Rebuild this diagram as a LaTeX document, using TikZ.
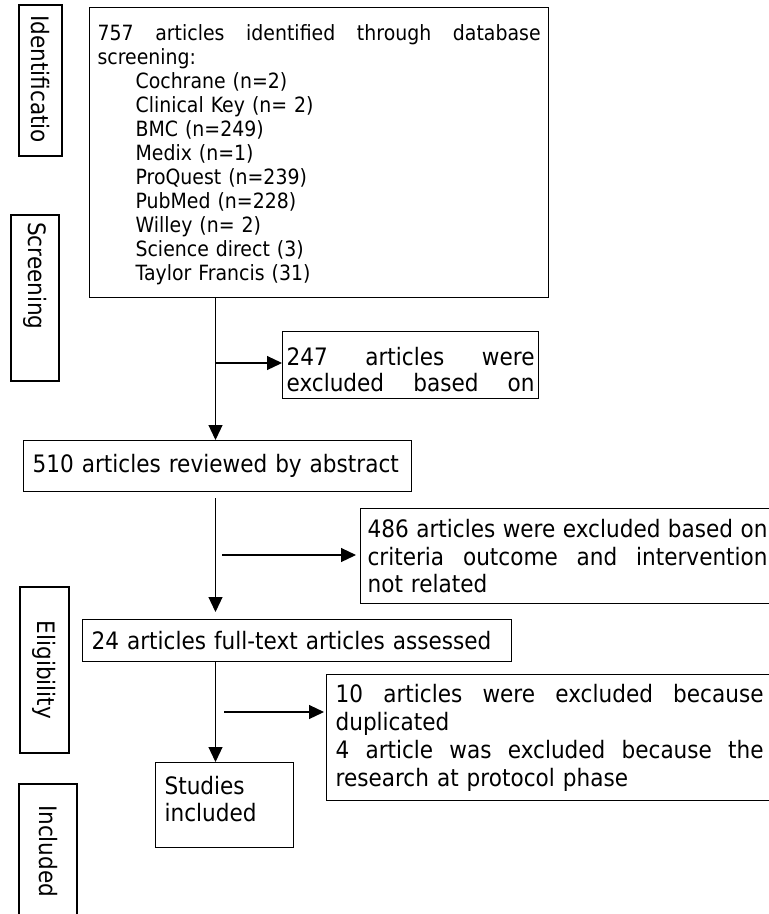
\documentclass[tikz,border=0pt]{standalone}
\usepackage{fontspec}
\setmainfont{DejaVu Sans}[FakeStretch=0.9]
\usetikzlibrary{arrows.meta}

\newcommand{\fullline}[2]{\makebox[#1][s]{\spaceskip=0.3em plus 1fil\relax#2}}

\tikzset{
    box/.style={draw, line width=1.2pt, inner ysep=0pt, align=left, font=\fontsize{24}{27.5}\selectfont},
    side/.style={draw, line width=1.2pt, rotate=-90, inner ysep=0pt, align=left, font=\fontsize{24}{27.5}\selectfont},
    arr/.style={line width=1.2pt, -{Triangle[length=15pt,width=14pt]}}
}

\begin{document}
\begin{tikzpicture}[x=1pt, y=-1pt]
    \useasboundingbox (0,0) rectangle (769,914);
    \clip (0,0) rectangle (769,914);
    \node[side, text width=131pt, inner xsep=10pt, minimum height=43pt] (lblident) at (40.5,80.5) {Identificatio};
    \node[side, text width=152pt, inner xsep=7pt, minimum height=48pt] (lblscreen) at (35,298) {Screening};
    \node[side, align=center, text width=150pt, inner xsep=8pt, minimum height=49pt] (lblelig) at (44.5,670) {Eligibility};
    \node[side, text width=124pt, inner xsep=21pt, minimum height=58pt] (lblincl) at (48,867) {Included};
    \node[box, anchor=north west, text width=443pt, inner xsep=8pt, minimum height=290pt, text height=20pt, font=\fontsize{21}{24}\selectfont] (found) at (89,7)
        {\fullline{443pt}{757 articles identified through database}\\screening:\\
        \hspace*{38pt}Cochrane (n=2)\\\hspace*{38pt}Clinical Key (n= 2)\\\hspace*{38pt}BMC (n=249)\\
        \hspace*{38pt}Medix (n=1)\\\hspace*{38pt}ProQuest (n=239)\\\hspace*{38pt}PubMed (n=228)\\
        \hspace*{38pt}Willey (n= 2)\\\hspace*{38pt}Science direct (3)\\\hspace*{38pt}Taylor Francis (31)};
    \node[box, anchor=north west, text width=248pt, inner xsep=4pt, minimum height=67pt, text height=27pt, font=\fontsize{24}{26}\selectfont] (excltitle) at (282,331)
        {\fullline{248pt}{247 articles were}\\\fullline{248pt}{excluded based on}};
    \node[box, anchor=north west, text width=370pt, inner xsep=9pt, minimum height=51pt] (abstract) at (23,440) {510 articles reviewed by abstract};
    \node[box, anchor=north west, text width=400pt, inner xsep=7pt, minimum height=95pt] (exclcrit) at (360,508)
        {\fullline{400pt}{486 articles were excluded based on}\\\fullline{400pt}{criteria outcome and intervention}\\not related};
    \node[box, anchor=north west, text width=428pt, inner xsep=9pt, minimum height=126pt, font=\fontsize{24}{28}\selectfont] (excldup) at (326,674)
        {\fullline{428pt}{10 articles were excluded because}\\duplicated\\\fullline{428pt}{4 article was excluded because the}\\research at protocol phase};
    \node[box, anchor=north west, text width=411pt, inner xsep=9pt, minimum height=42pt] (fulltext) at (82,619) {24 articles full-text articles assessed};
    \node[box, anchor=north west, text width=120pt, inner xsep=9pt, minimum height=85pt, text depth=40pt] (included) at (155,762) {Studies\\included};
    \coordinate (j1) at (215.5,363);
    \coordinate (j2) at (222,555);
    \coordinate (j3) at (224,712);
    \draw[arr] (found.south -| j1) -- (abstract.north -| j1);
    \draw[arr] (j1) -- (j1 -| excltitle.west);
    \draw[arr, shorten <=6pt, shorten >=7pt] (abstract.south -| j1) -- (fulltext.north -| j1);
    \draw[arr, shorten >=4pt] (j2) -- (j2 -| exclcrit.west);
    \draw[arr] (fulltext.south -| j1) -- (included.north -| j1);
    \draw[arr, shorten >=2pt] (j3) -- (j3 -| excldup.west);
\end{tikzpicture}
\end{document}
